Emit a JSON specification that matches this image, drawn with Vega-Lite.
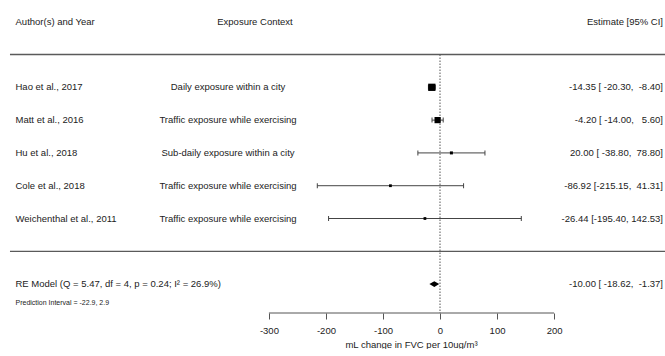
{
  "$schema": "https://vega.github.io/schema/vega-lite/v6.json",
  "width": 665,
  "height": 313,
  "padding": 0,
  "background": "white",
  "config": {
    "view": {"stroke": null},
    "text": {"font": "Liberation Sans", "fontSize": 9.5, "color": "#222"},
    "axisX": {"labelFont": "Liberation Sans", "titleFont": "Liberation Sans", "domain": false, "grid": false, "ticks": true, "tickSize": 6, "tickColor": "#555", "tickWidth": 1,
              "labelFontSize": 9.5, "labelColor": "#222", "labelPadding": 6, "titleFontSize": 9.5, "titleFontWeight": "normal", "titleColor": "#222"}
  },
  "datasets": {
    "studies": [
      {"author": "Hao et al., 2017", "context": "Daily exposure within a city", "est": -14.35, "lo": -20.30, "hi": -8.40, "weight": 57.9, "ci": "-14.35 [\u00a0-20.30,\u00a0\u00a0-8.40]", "row": 5},
      {"author": "Matt et al., 2016", "context": "Traffic exposure while exercising", "est": -4.20, "lo": -14.00, "hi": 5.60, "weight": 39.3, "ci": "-4.20 [\u00a0-14.00,\u00a0\u00a0\u00a05.60]", "row": 4},
      {"author": "Hu et al., 2018", "context": "Sub-daily exposure within a city", "est": 20.00, "lo": -38.80, "hi": 78.80, "weight": 2.09, "ci": "20.00 [\u00a0-38.80,\u00a0\u00a078.80]", "row": 3},
      {"author": "Cole et al., 2018", "context": "Traffic exposure while exercising", "est": -86.92, "lo": -215.15, "hi": 41.31, "weight": 0.45, "ci": "-86.92 [-215.15,\u00a0\u00a041.31]", "row": 2},
      {"author": "Weichenthal et al., 2011", "context": "Traffic exposure while exercising", "est": -26.44, "lo": -195.40, "hi": 142.53, "weight": 0.26, "ci": "-26.44 [-195.40,\u00a0142.53]", "row": 1}
    ],
    "header": [
      {"author": "Author(s) and Year", "context": "Exposure Context", "ci": "Estimate [95% CI]", "row": 7}
    ],
    "summary": [
      {"author": "RE Model (Q = 5.47, df = 4, p = 0.24; I\u00b2 = 26.9%)", "est": -10.00, "lo": -18.62, "hi": -1.37, "ci": "-10.00 [\u00a0-18.62,\u00a0\u00a0-1.37]", "row": -1}
    ],
    "pi": [
      {"author": "Prediction Interval = -22.9, 2.9"}
    ],
    "hlines": [{"row": 6}, {"row": 0}]
  },
  "layer": [
    {
      "data": {"name": "hlines"},
      "mark": {"type": "rule", "color": "#5a5a5a", "strokeWidth": 1.3},
      "encoding": {
        "x": {"datum": -754, "type": "quantitative", "scale": {"domain": [-771.5, 394.5], "nice": false, "zero": false},
              "axis": {"values": [-300, -200, -100, 0, 100, 200], "labelExpr": "'' + datum.value", "title": "mL change in FVC per 10ug/m\u00b3", "titleX": 411, "titleY": 31, "titleAlign": "center", "titleBaseline": "middle"}},
        "x2": {"datum": 394.5},
        "y": {"field": "row", "type": "quantitative", "scale": {"domain": [-1.881, 7.662], "nice": false, "zero": false}, "axis": null}
      }
    },
    {
      "data": {"name": "pi"},
      "mark": {"type": "rule", "color": "#555", "strokeWidth": 1, "strokeDash": [1.5, 1.5]},
      "encoding": {
        "x": {"datum": 0, "type": "quantitative",
              "axis": {"values": [-300, -200, -100, 0, 100, 200], "labelExpr": "'' + datum.value", "title": "mL change in FVC per 10ug/m\u00b3", "titleX": 411, "titleY": 31, "titleAlign": "center", "titleBaseline": "middle"}},
        "y": {"datum": 6, "type": "quantitative", "axis": null},
        "y2": {"datum": -1.881}
      }
    },
    {
      "data": {"name": "pi"},
      "mark": {"type": "rule", "color": "#555", "strokeWidth": 1},
      "encoding": {
        "x": {"datum": -300, "type": "quantitative",
              "axis": {"values": [-300, -200, -100, 0, 100, 200], "labelExpr": "'' + datum.value", "title": "mL change in FVC per 10ug/m\u00b3", "titleX": 411, "titleY": 31, "titleAlign": "center", "titleBaseline": "middle"}},
        "x2": {"datum": 200},
        "y": {"datum": -1.881, "type": "quantitative", "axis": null}
      }
    },
    {
      "data": {"name": "studies"},
      "mark": {"type": "rule", "color": "#444", "strokeWidth": 1},
      "encoding": {
        "x": {"field": "lo", "type": "quantitative",
              "axis": {"values": [-300, -200, -100, 0, 100, 200], "labelExpr": "'' + datum.value", "title": "mL change in FVC per 10ug/m\u00b3", "titleX": 411, "titleY": 31, "titleAlign": "center", "titleBaseline": "middle"}},
        "x2": {"field": "hi"},
        "y": {"field": "row", "type": "quantitative", "axis": null}
      }
    },
    {
      "data": {"name": "studies"},
      "mark": {"type": "tick", "orient": "vertical", "color": "#444", "size": 5, "thickness": 1, "opacity": 1},
      "encoding": {
        "x": {"field": "lo", "type": "quantitative",
              "axis": {"values": [-300, -200, -100, 0, 100, 200], "labelExpr": "'' + datum.value", "title": "mL change in FVC per 10ug/m\u00b3", "titleX": 411, "titleY": 31, "titleAlign": "center", "titleBaseline": "middle"}},
        "y": {"field": "row", "type": "quantitative", "axis": null}
      }
    },
    {
      "data": {"name": "studies"},
      "mark": {"type": "tick", "orient": "vertical", "color": "#444", "size": 5, "thickness": 1, "opacity": 1},
      "encoding": {
        "x": {"field": "hi", "type": "quantitative",
              "axis": {"values": [-300, -200, -100, 0, 100, 200], "labelExpr": "'' + datum.value", "title": "mL change in FVC per 10ug/m\u00b3", "titleX": 411, "titleY": 31, "titleAlign": "center", "titleBaseline": "middle"}},
        "y": {"field": "row", "type": "quantitative", "axis": null}
      }
    },
    {
      "data": {"name": "studies"},
      "mark": {"type": "point", "shape": "square", "filled": true, "color": "#000", "opacity": 1, "strokeWidth": 0},
      "encoding": {
        "x": {"field": "est", "type": "quantitative",
              "axis": {"values": [-300, -200, -100, 0, 100, 200], "labelExpr": "'' + datum.value", "title": "mL change in FVC per 10ug/m\u00b3", "titleX": 411, "titleY": 31, "titleAlign": "center", "titleBaseline": "middle"}},
        "y": {"field": "row", "type": "quantitative", "axis": null},
        "size": {"field": "weight", "type": "quantitative", "scale": {"domain": [0, 60], "range": [7.4, 54.8]}, "legend": null}
      }
    },
    {
      "data": {"name": "summary"},
      "mark": {"type": "point", "shape": "M-1,0L0,-0.6L1,0L0,0.6Z", "filled": true, "color": "#000", "opacity": 1, "size": 97, "strokeWidth": 0},
      "encoding": {
        "x": {"field": "est", "type": "quantitative",
              "axis": {"values": [-300, -200, -100, 0, 100, 200], "labelExpr": "'' + datum.value", "title": "mL change in FVC per 10ug/m\u00b3", "titleX": 411, "titleY": 31, "titleAlign": "center", "titleBaseline": "middle"}},
        "y": {"field": "row", "type": "quantitative", "axis": null}
      }
    },
    {
      "data": {"name": "studies"},
      "mark": {"type": "text", "align": "left", "baseline": "middle"},
      "encoding": {
        "x": {"datum": -744.3, "type": "quantitative",
              "axis": {"values": [-300, -200, -100, 0, 100, 200], "labelExpr": "'' + datum.value", "title": "mL change in FVC per 10ug/m\u00b3", "titleX": 411, "titleY": 31, "titleAlign": "center", "titleBaseline": "middle"}},
        "y": {"field": "row", "type": "quantitative", "axis": null},
        "text": {"field": "author"}
      }
    },
    {
      "data": {"name": "studies"},
      "mark": {"type": "text", "align": "center", "baseline": "middle"},
      "encoding": {
        "x": {"datum": -371.7, "type": "quantitative",
              "axis": {"values": [-300, -200, -100, 0, 100, 200], "labelExpr": "'' + datum.value", "title": "mL change in FVC per 10ug/m\u00b3", "titleX": 411, "titleY": 31, "titleAlign": "center", "titleBaseline": "middle"}},
        "y": {"field": "row", "type": "quantitative", "axis": null},
        "text": {"field": "context"}
      }
    },
    {
      "data": {"name": "studies"},
      "mark": {"type": "text", "align": "right", "baseline": "middle"},
      "encoding": {
        "x": {"datum": 391, "type": "quantitative",
              "axis": {"values": [-300, -200, -100, 0, 100, 200], "labelExpr": "'' + datum.value", "title": "mL change in FVC per 10ug/m\u00b3", "titleX": 411, "titleY": 31, "titleAlign": "center", "titleBaseline": "middle"}},
        "y": {"field": "row", "type": "quantitative", "axis": null},
        "text": {"field": "ci"}
      }
    },
    {
      "data": {"name": "header"},
      "mark": {"type": "text", "align": "left", "baseline": "middle"},
      "encoding": {
        "x": {"datum": -744.3, "type": "quantitative",
              "axis": {"values": [-300, -200, -100, 0, 100, 200], "labelExpr": "'' + datum.value", "title": "mL change in FVC per 10ug/m\u00b3", "titleX": 411, "titleY": 31, "titleAlign": "center", "titleBaseline": "middle"}},
        "y": {"field": "row", "type": "quantitative", "axis": null},
        "text": {"field": "author"}
      }
    },
    {
      "data": {"name": "header"},
      "mark": {"type": "text", "align": "center", "baseline": "middle"},
      "encoding": {
        "x": {"datum": -324.4, "type": "quantitative",
              "axis": {"values": [-300, -200, -100, 0, 100, 200], "labelExpr": "'' + datum.value", "title": "mL change in FVC per 10ug/m\u00b3", "titleX": 411, "titleY": 31, "titleAlign": "center", "titleBaseline": "middle"}},
        "y": {"field": "row", "type": "quantitative", "axis": null},
        "text": {"field": "context"}
      }
    },
    {
      "data": {"name": "header"},
      "mark": {"type": "text", "align": "right", "baseline": "middle"},
      "encoding": {
        "x": {"datum": 391, "type": "quantitative",
              "axis": {"values": [-300, -200, -100, 0, 100, 200], "labelExpr": "'' + datum.value", "title": "mL change in FVC per 10ug/m\u00b3", "titleX": 411, "titleY": 31, "titleAlign": "center", "titleBaseline": "middle"}},
        "y": {"field": "row", "type": "quantitative", "axis": null},
        "text": {"field": "ci"}
      }
    },
    {
      "data": {"name": "summary"},
      "mark": {"type": "text", "align": "left", "baseline": "middle"},
      "encoding": {
        "x": {"datum": -744.3, "type": "quantitative",
              "axis": {"values": [-300, -200, -100, 0, 100, 200], "labelExpr": "'' + datum.value", "title": "mL change in FVC per 10ug/m\u00b3", "titleX": 411, "titleY": 31, "titleAlign": "center", "titleBaseline": "middle"}},
        "y": {"field": "row", "type": "quantitative", "axis": null},
        "text": {"field": "author"}
      }
    },
    {
      "data": {"name": "summary"},
      "mark": {"type": "text", "align": "right", "baseline": "middle"},
      "encoding": {
        "x": {"datum": 391, "type": "quantitative",
              "axis": {"values": [-300, -200, -100, 0, 100, 200], "labelExpr": "'' + datum.value", "title": "mL change in FVC per 10ug/m\u00b3", "titleX": 411, "titleY": 31, "titleAlign": "center", "titleBaseline": "middle"}},
        "y": {"field": "row", "type": "quantitative", "axis": null},
        "text": {"field": "ci"}
      }
    },
    {
      "data": {"name": "pi"},
      "mark": {"type": "text", "align": "left", "baseline": "middle", "fontSize": 7},
      "encoding": {
        "x": {"datum": -744.3, "type": "quantitative",
              "axis": {"values": [-300, -200, -100, 0, 100, 200], "labelExpr": "'' + datum.value", "title": "mL change in FVC per 10ug/m\u00b3", "titleX": 411, "titleY": 31, "titleAlign": "center", "titleBaseline": "middle"}},
        "y": {"datum": -1.576, "type": "quantitative", "axis": null},
        "text": {"field": "author"}
      }
    }
  ]
}
